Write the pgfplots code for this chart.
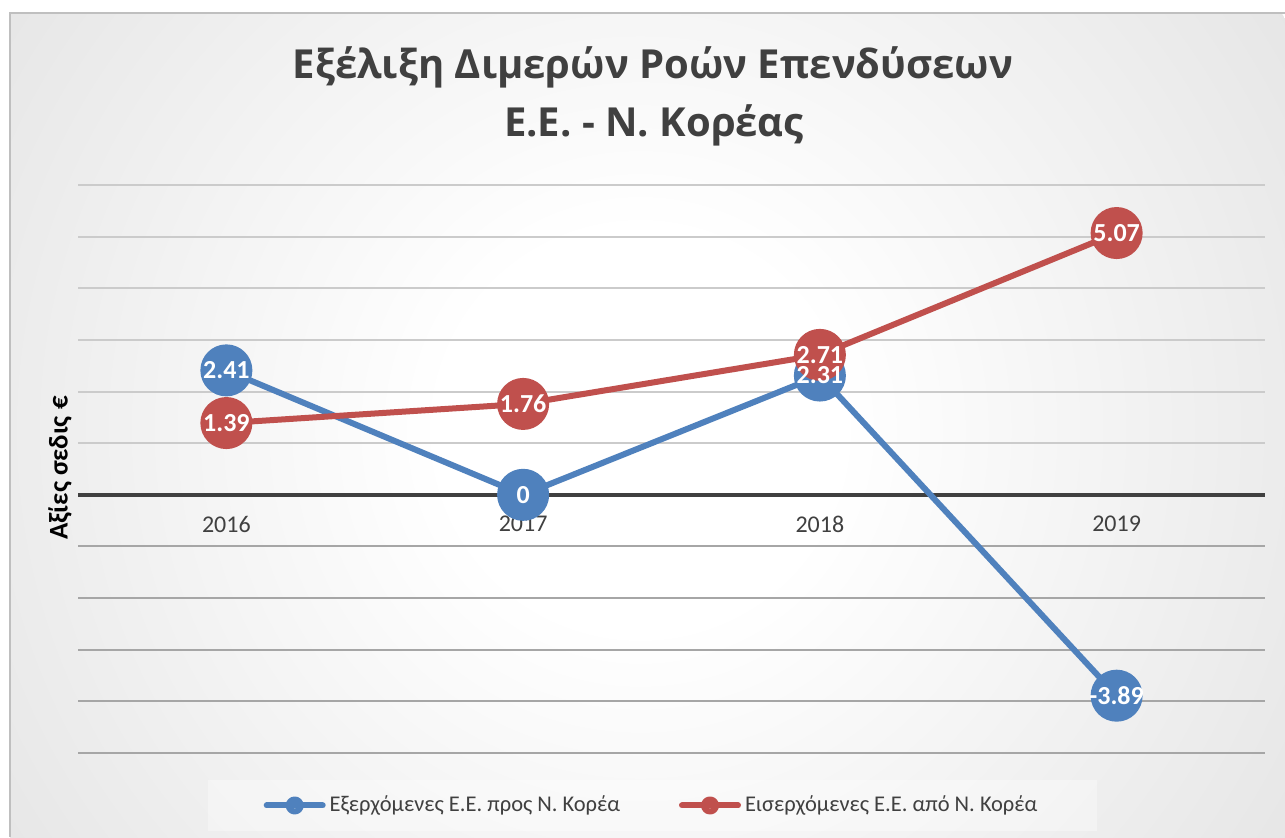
\documentclass[border=0pt]{standalone}
\usepackage{fontspec}
\setmainfont{Carlito}
\newfontfamily\titlefont{Open Sans}
\usepackage{pgfplots}
\pgfplotsset{compat=1.18}
\definecolor{sblue}{HTML}{4F81BD}
\definecolor{sred}{HTML}{C0504D}
\definecolor{txt}{HTML}{404040}
\definecolor{zeroc}{HTML}{404040}
\definecolor{bgedge}{HTML}{C5C5C5}
\definecolor{bgline}{HTML}{BFBFBF}
\definecolor{gridhigh}{HTML}{CBCBCB}
\definecolor{gridlow}{HTML}{A6A6A6}
\pgfdeclareradialshading{bgshade}{\pgfpointorigin}{color(0bp)=(white); color(6.5bp)=(white); color(50bp)=(bgedge); color(100bp)=(bgedge)}

\pgfplotstableread{
x y lab
1 2.41 2.41
2 0 0
3 2.31 2.31
4 -3.89 -3.89
}\outflow
\pgfplotstableread{
x y lab
1 1.39 1.39
2 1.76 1.76
3 2.71 2.71
4 5.07 5.07
}\inflow

\begin{document}
\begin{tikzpicture}
\useasboundingbox (0,0) rectangle (642.5pt,418.5pt);
\begin{scope}
\clip (5pt,0pt) rectangle (642.5pt,412pt);
\shade[shading=bgshade] (320pt,203.5pt) circle (382.5pt);
\end{scope}
\draw[color=bgline, line width=0.75pt] (5pt,0pt) -- (5pt,412pt) -- (642.5pt,412pt);

\node[anchor=base, text=txt, font=\titlefont\bfseries\fontsize{20}{24}\selectfont, inner sep=0pt] at (326.5pt,379pt) {Εξέλιξη Διμερών Ροών Επενδύσεων};
\node[anchor=base, text=txt, font=\titlefont\bfseries\fontsize{20}{24}\selectfont, inner sep=0pt] at (327pt,350pt) {Ε.Ε. - Ν. Κορέας};

\begin{axis}[
  at={(39pt,42pt)}, anchor=south west,
  width=593.5pt, height=284pt, scale only axis,
  xmin=0.5, xmax=4.5, ymin=-5, ymax=6,
  axis x line=middle, axis y line=left,
  axis line style={-, line width=2pt, color=zeroc},
  y axis line style={draw=none},
  xtick={1,2,3,4}, xticklabels={2016,2017,2018,2019},
  major tick length=0pt, minor tick length=0pt,
  x tick label style={font=\fontsize{12}{14}\selectfont, text=txt, yshift=-7pt},
  ytick={-5,-4,-3,-2,-1}, minor ytick={1,2,3,4,5,6},
  yticklabels={},
  ymajorgrids, yminorgrids,
  major grid style={line width=1pt, color=gridlow},
  minor grid style={line width=1pt, color=gridhigh},
  ylabel={Αξίες σεδις €},
  ylabel style={at={(axis description cs:-0.0152,0.502)}, anchor=center, font=\bfseries\fontsize{13.5}{15}\selectfont, text=black},
  clip=false,
  legend columns=2,
  legend style={at={(axis description cs:0.484,-0.0924)}, anchor=center, draw=none,
    fill=white, fill opacity=0.35, text opacity=1, font=\fontsize{11.25}{13}\selectfont, text=txt,
    inner xsep=28pt, inner ysep=6pt,
    /tikz/column 2/.style={column sep=27.5pt}},
  legend image code/.code={
    \draw[line width=3pt, line cap=round] (0pt,0pt) -- (28pt,0pt);
    \fill (14pt,0pt) circle (3pt);
  },
]
\addplot[sblue, line width=3pt, line join=round, mark=*, mark size=11.5pt, mark options={solid, draw=none, fill=sblue}] table[x=x, y=y] {\outflow};
\addlegendentry{Εξερχόμενες Ε.Ε. προς Ν. Κορέα}
\addplot[sred, line width=3pt, line join=round, mark=*, mark size=11.5pt, mark options={solid, draw=none, fill=sred}] table[x=x, y=y] {\inflow};
\addlegendentry{Εισερχόμενες Ε.Ε. από Ν. Κορέα}

\addplot[draw=none, forget plot, mark=none, point meta=explicit symbolic, nodes near coords,
  every node near coord/.style={anchor=center, text=white, font=\bfseries\fontsize{13}{15}\selectfont, inner sep=0pt}] table[x=x, y=y, meta=lab] {\outflow};
\addplot[draw=none, forget plot, mark=none, point meta=explicit symbolic, nodes near coords,
  every node near coord/.style={anchor=center, text=white, font=\bfseries\fontsize{13}{15}\selectfont, inner sep=0pt}] table[x=x, y=y, meta=lab] {\inflow};
\end{axis}
\end{tikzpicture}
\end{document}
